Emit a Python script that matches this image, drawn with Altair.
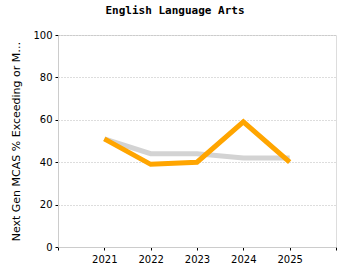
import altair as alt
import pandas as pd

years = [2021, 2022, 2023, 2024, 2025]
state_vals = [51, 44, 44, 42, 42]
school_vals = [51, 39, 40, 59, 40]

gray_df = pd.DataFrame({"year": years, "pct": state_vals})
orange_df = pd.DataFrame({"year": years, "pct": school_vals})

x_enc = alt.X(
    "year:Q",
    scale=alt.Scale(domain=[2020, 2026], nice=False, zero=False),
    axis=alt.Axis(
        values=[2020, 2021, 2022, 2023, 2024, 2025, 2026],
        labelExpr="(datum.value == 2020 || datum.value == 2026) ? '' : datum.label",
        format="d",
        title=None,
        grid=False,
        domainColor="#cccccc",
        tickColor="#000000",
        tickSize=3,
        labelFont="DejaVu Sans",
        labelFontSize=10,
        labelColor="#000000",
        labelPadding=4,
    ),
)
y_enc = alt.Y(
    "pct:Q",
    scale=alt.Scale(domain=[0, 100], nice=False),
    axis=alt.Axis(
        values=[0, 20, 40, 60, 80, 100],
        title="Next Gen MCAS % Exceeding or Meeting Expectations",
        titleFont="DejaVu Sans",
        titleFontSize=11,
        titleFontWeight="normal",
        titleColor="#000000",
        titleLimit=202,
        titlePadding=11,
        grid=True,
        gridDash=[1, 2],
        gridColor="#bbbbbb",
        domainColor="#cccccc",
        tickColor="#000000",
        tickSize=3,
        labelFont="DejaVu Sans",
        labelFontSize=10,
        labelColor="#000000",
        labelPadding=3,
    ),
)

gray = alt.Chart(gray_df).mark_line(color="#d3d3d3", strokeWidth=5).encode(x=x_enc, y=y_enc)
orange = alt.Chart(orange_df).mark_line(color="#ffa500", strokeWidth=5).encode(x=x_enc, y=y_enc)

chart = (
    alt.layer(gray, orange)
    .properties(
        width=278,
        height=212,
        autosize=alt.AutoSizeParams(type="none"),
        padding={"left": 58, "top": 35, "right": 14, "bottom": 33},
        title=alt.TitleParams(
            "English Language Arts",
            font="DejaVu Sans Mono",
            fontSize=11,
            fontWeight="bold",
            color="#000000",
            anchor="middle",
            dx=-22,
            offset=14,
        ),
    )
    .configure_view(stroke=None)
    .configure(background="white")
)

chart.save("out.html", embed_options={"renderer": "svg", "actions": False})
